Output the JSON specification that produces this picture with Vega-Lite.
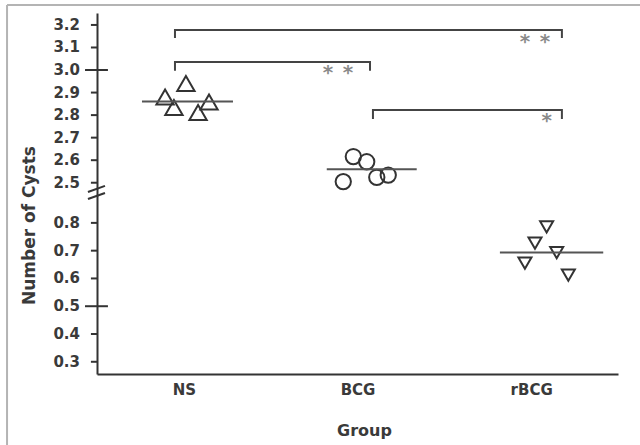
{
  "$schema": "https://vega.github.io/schema/vega-lite/v6.json",
  "autosize": "none",
  "width": 521,
  "height": 361,
  "padding": {"left": 97, "top": 13, "right": 22, "bottom": 71},
  "background": "white",
  "config": {
    "view": {"stroke": null},
    "axis": {
      "grid": false,
      "domainColor": "#333333",
      "domainWidth": 2,
      "tickColor": "#333333",
      "tickWidth": 2,
      "labelFont": "DejaVu Sans",
      "labelFontWeight": "bold",
      "labelFontSize": 14,
      "labelColor": "#3a3a3a",
      "titleFont": "DejaVu Sans",
      "titleFontWeight": "bold",
      "titleFontSize": 15,
      "titleColor": "#3a3a3a"
    }
  },
  "datasets": {
    "points": [
      {"group": "NS", "pos": 0.392, "cysts": 2.880},
      {"group": "NS", "pos": 0.512, "cysts": 2.940},
      {"group": "NS", "pos": 0.443, "cysts": 2.834},
      {"group": "NS", "pos": 0.582, "cysts": 2.812},
      {"group": "NS", "pos": 0.645, "cysts": 2.858},
      {"group": "BCG", "pos": 1.476, "cysts": 2.616},
      {"group": "BCG", "pos": 1.553, "cysts": 2.593},
      {"group": "BCG", "pos": 1.418, "cysts": 2.505},
      {"group": "BCG", "pos": 1.611, "cysts": 2.524},
      {"group": "BCG", "pos": 1.677, "cysts": 2.534},
      {"group": "rBCG", "pos": 2.589, "cysts": 0.786},
      {"group": "rBCG", "pos": 2.522, "cysts": 0.727},
      {"group": "rBCG", "pos": 2.647, "cysts": 0.693},
      {"group": "rBCG", "pos": 2.464, "cysts": 0.655},
      {"group": "rBCG", "pos": 2.714, "cysts": 0.612}
    ],
    "means": [
      {"group": "NS", "x1": 0.259, "x2": 0.783, "mean": 2.86},
      {"group": "BCG", "x1": 1.323, "x2": 1.841, "mean": 2.56},
      {"group": "rBCG", "x1": 2.320, "x2": 2.915, "mean": 0.693}
    ],
    "brackets": [
      {"id": "NS-rBCG", "o": 1, "bx": 0.449, "by": 3.142},
      {"id": "NS-rBCG", "o": 2, "bx": 0.449, "by": 3.178},
      {"id": "NS-rBCG", "o": 3, "bx": 2.677, "by": 3.178},
      {"id": "NS-rBCG", "o": 4, "bx": 2.677, "by": 3.142},
      {"id": "NS-BCG", "o": 1, "bx": 0.449, "by": 2.997},
      {"id": "NS-BCG", "o": 2, "bx": 0.449, "by": 3.036},
      {"id": "NS-BCG", "o": 3, "bx": 1.572, "by": 3.036},
      {"id": "NS-BCG", "o": 4, "bx": 1.572, "by": 2.997},
      {"id": "BCG-rBCG", "o": 1, "bx": 1.589, "by": 2.783},
      {"id": "BCG-rBCG", "o": 2, "bx": 1.589, "by": 2.823},
      {"id": "BCG-rBCG", "o": 3, "bx": 2.677, "by": 2.823},
      {"id": "BCG-rBCG", "o": 4, "bx": 2.677, "by": 2.783}
    ],
    "stars": [
      {"sx": 2.464, "sy": 3.138, "s": "*"},
      {"sx": 2.580, "sy": 3.138, "s": "*"},
      {"sx": 1.330, "sy": 3.000, "s": "*"},
      {"sx": 1.445, "sy": 3.000, "s": "*"},
      {"sx": 2.589, "sy": 2.787, "s": "*"}
    ],
    "breaks": [
      {"id": "a", "o": 1, "kx": -0.052, "ky": 2.459},
      {"id": "a", "o": 2, "kx": 0.046, "ky": 2.486},
      {"id": "b", "o": 1, "kx": -0.052, "ky": 1.917},
      {"id": "b", "o": 2, "kx": 0.046, "ky": 2.4545}
    ],
    "crossticks": [
      {"t1": -0.069, "t2": 0.063, "ty": 3.0},
      {"t1": -0.069, "t2": 0.063, "ty": 0.5}
    ],
    "yticks": [
      {"ty": 3.2}, {"ty": 3.1}, {"ty": 2.9}, {"ty": 2.8}, {"ty": 2.7}, {"ty": 2.6}, {"ty": 2.5},
      {"ty": 0.8}, {"ty": 0.7}, {"ty": 0.6}, {"ty": 0.4}, {"ty": 0.3}
    ],
    "ylabels": [
      {"ly": 3.2, "lab": "3.2"}, {"ly": 3.1, "lab": "3.1"}, {"ly": 3.0, "lab": "3.0"},
      {"ly": 2.9, "lab": "2.9"}, {"ly": 2.8, "lab": "2.8"}, {"ly": 2.7, "lab": "2.7"},
      {"ly": 2.6, "lab": "2.6"}, {"ly": 2.5, "lab": "2.5"},
      {"ly": 0.8, "lab": "0.8"}, {"ly": 0.7, "lab": "0.7"}, {"ly": 0.6, "lab": "0.6"},
      {"ly": 0.5, "lab": "0.5"}, {"ly": 0.4, "lab": "0.4"}, {"ly": 0.3, "lab": "0.3"}
    ],
    "frame": [
      {"f1": -0.518, "f2": 3.7, "fy": 3.2885, "fy2": 3.2885},
      {"f1": -0.518, "f2": -0.518, "fy": 3.2885, "fy2": 0.0}
    ]
  },
  "layer": [
    {
      "data": {"name": "points"},
      "mark": {"type": "point", "filled": false, "stroke": "#333333", "strokeWidth": 2, "opacity": 1},
      "encoding": {
        "x": {
          "field": "pos", "type": "quantitative",
          "scale": {"domain": [0, 3], "nice": false, "zero": false},
          "axis": {
            "title": "Group",
            "values": [0.5, 1.5, 2.5],
            "labelExpr": "datum.value < 1 ? 'NS' : (datum.value < 2 ? 'BCG' : 'rBCG')",
            "ticks": false,
            "labelPadding": 8,
            "labelFontSize": 15,
            "titleFontSize": 16,
            "titleX": 267,
            "titleY": 56,
            "titleBaseline": "middle"
          }
        },
        "y": {
          "field": "cysts", "type": "quantitative",
          "scale": {"domain": [0.256, 0.85, 2.45, 3.253], "range": [361, 196, 181, 0], "nice": false, "zero": false},
          "axis": {
            "title": "Number of Cysts",
            "values": [0.3, 3.2],
            "ticks": false,
            "labels": false,
            "titleFontSize": 17,
            "titleX": -68,
            "titleY": 212,
            "titleAlign": "center",
            "titleBaseline": "middle"
          }
        },
        "shape": {
          "field": "group", "type": "nominal",
          "scale": {"domain": ["NS", "BCG", "rBCG"], "range": ["triangle-up", "circle", "triangle-down"]},
          "legend": null
        },
        "size": {
          "field": "group", "type": "nominal",
          "scale": {"domain": ["NS", "BCG", "rBCG"], "range": [300, 170, 300]},
          "legend": null
        }
      }
    },
    {
      "data": {"name": "frame"},
      "mark": {"type": "rule", "color": "#b4b4b4", "strokeWidth": 2, "clip": false},
      "encoding": {
        "x": {"field": "f1", "type": "quantitative"},
        "x2": {"field": "f2"},
        "y": {"field": "fy", "type": "quantitative"},
        "y2": {"field": "fy2"}
      }
    },
    {
      "data": {"name": "means"},
      "mark": {"type": "rule", "color": "#555555", "strokeWidth": 2},
      "encoding": {
        "x": {"field": "x1", "type": "quantitative"},
        "x2": {"field": "x2"},
        "y": {"field": "mean", "type": "quantitative"}
      }
    },
    {
      "data": {"name": "brackets"},
      "mark": {"type": "line", "color": "#444444", "strokeWidth": 2},
      "encoding": {
        "x": {"field": "bx", "type": "quantitative"},
        "y": {"field": "by", "type": "quantitative"},
        "detail": {"field": "id"},
        "order": {"field": "o"}
      }
    },
    {
      "data": {"name": "stars"},
      "mark": {"type": "text", "font": "DejaVu Sans", "fontSize": 20, "fontWeight": "bold", "color": "#8a8a8a", "baseline": "alphabetic", "dy": 9},
      "encoding": {
        "x": {"field": "sx", "type": "quantitative"},
        "y": {"field": "sy", "type": "quantitative"},
        "text": {"field": "s"}
      }
    },
    {
      "data": {"name": "breaks"},
      "mark": {"type": "line", "color": "#333333", "strokeWidth": 2, "clip": false},
      "encoding": {
        "x": {"field": "kx", "type": "quantitative"},
        "y": {"field": "ky", "type": "quantitative"},
        "detail": {"field": "id"},
        "order": {"field": "o"}
      }
    },
    {
      "data": {"name": "yticks"},
      "mark": {"type": "rule", "color": "#333333", "strokeWidth": 2, "clip": false},
      "encoding": {
        "x": {"datum": -0.035, "type": "quantitative"},
        "x2": {"datum": 0},
        "y": {"field": "ty", "type": "quantitative"}
      }
    },
    {
      "data": {"name": "crossticks"},
      "mark": {"type": "rule", "color": "#333333", "strokeWidth": 2, "clip": false},
      "encoding": {
        "x": {"field": "t1", "type": "quantitative"},
        "x2": {"field": "t2"},
        "y": {"field": "ty", "type": "quantitative"}
      }
    },
    {
      "data": {"name": "ylabels"},
      "mark": {"type": "text", "font": "DejaVu Sans", "fontSize": 15, "fontWeight": "bold", "color": "#3a3a3a", "align": "right", "baseline": "middle", "clip": false},
      "encoding": {
        "x": {"datum": -0.098, "type": "quantitative"},
        "y": {"field": "ly", "type": "quantitative"},
        "text": {"field": "lab"}
      }
    }
  ]
}
